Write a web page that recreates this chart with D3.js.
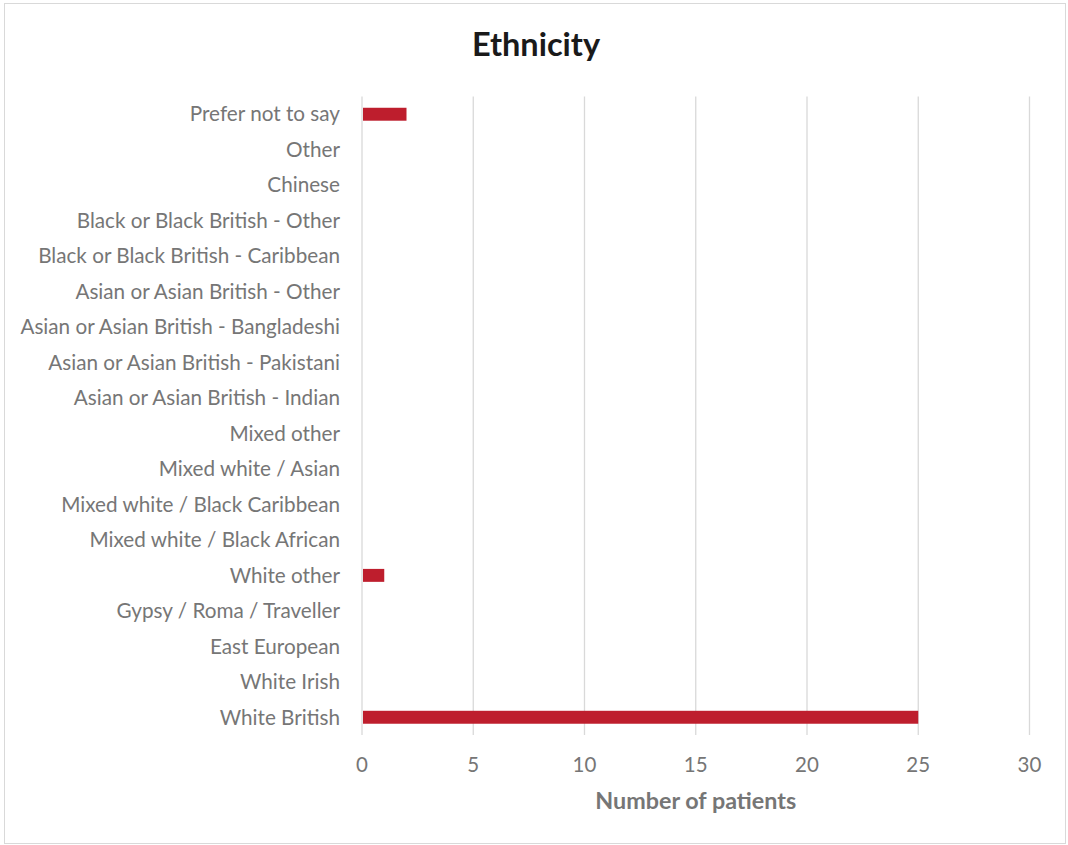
<!DOCTYPE html>
<head>
<meta charset="utf-8">
<title>Ethnicity</title>
<style>
    body { margin:0; background:#fff; }
    svg { display:block; }
    text { font-family: Lato, "Open Sans", sans-serif; }
</style>
</head>
<body>
<svg width="1068" height="845"></svg>

<script src="https://cdnjs.cloudflare.com/ajax/libs/d3/7.8.5/d3.min.js"></script>
<script>
var categories = ["Prefer not to say", "Other", "Chinese", "Black or Black British - Other",
  "Black or Black British - Caribbean", "Asian or Asian British - Other",
  "Asian or Asian British - Bangladeshi", "Asian or Asian British - Pakistani",
  "Asian or Asian British - Indian", "Mixed other", "Mixed white / Asian",
  "Mixed white / Black Caribbean", "Mixed white / Black African", "White other",
  "Gypsy / Roma / Traveller", "East European", "White Irish", "White British"];
var patients = [2, 0, 0, 0, 0, 0, 0, 0, 0, 0, 0, 0, 0, 1, 0, 0, 0, 25];
var xTicks = [0, 5, 10, 15, 20, 25, 30];

var svg = d3.select("svg");

// chart frame
svg.append("rect")
    .attr("x", 4.5).attr("y", 3.5)
    .attr("width", 1061).attr("height", 840)
    .attr("fill", "#fff")
    .attr("stroke", "#d9d9d9");

var plotLeft = 362, plotRight = 1029.5, plotTop = 96.5, plotBottom = 735;

var x = d3.scaleLinear().domain([0, 30]).range([plotLeft, plotRight]);
var y = d3.scaleBand().domain(categories).range([plotTop, plotBottom]).paddingInner(0.635).paddingOuter(0.3175);

// gridlines
svg.append("g").selectAll("line")
    .data(xTicks)
    .join("line")
    .attr("x1", d => x(d)).attr("x2", d => x(d))
    .attr("y1", plotTop).attr("y2", plotBottom)
    .attr("stroke", "#d9d9d9")
    .attr("stroke-width", 1.3);

// bars
svg.append("g").selectAll("rect")
    .data(categories)
    .join("rect")
    .attr("x", x(0) + 1)
    .attr("y", d => y(d))
    .attr("width", (d, i) => Math.max(0, x(patients[i]) - x(0) - 1))
    .attr("height", y.bandwidth())
    .attr("fill", "#be1e2d");

// category labels
svg.append("g").selectAll("text")
    .data(categories)
    .join("text")
    .attr("x", 340)
    .attr("y", d => y(d) + y.bandwidth() / 2)
    .attr("dy", "0.35em")
    .attr("text-anchor", "end")
    .attr("font-size", 20.7)
    .attr("fill", "#767676")
    .text(d => d);

// x tick labels
svg.append("g").selectAll("text")
    .data(xTicks)
    .join("text")
    .attr("x", d => x(d))
    .attr("y", 765)
    .attr("dy", "0.35em")
    .attr("text-anchor", "middle")
    .attr("font-size", 20.5)
    .attr("fill", "#767676")
    .text(d => d);

// axis title
svg.append("text")
    .attr("x", (plotLeft + plotRight) / 2)
    .attr("y", 801)
    .attr("dy", "0.35em")
    .attr("text-anchor", "middle")
    .attr("font-size", 23.3)
    .attr("font-weight", "bold")
    .attr("fill", "#767676")
    .text("Number of patients");

// title
svg.append("text")
    .attr("x", 536)
    .attr("y", 45)
    .attr("dy", "0.35em")
    .attr("text-anchor", "middle")
    .attr("font-size", 32.5)
    .attr("font-weight", "bold")
    .attr("fill", "#1a1a1a")
    .text("Ethnicity");
</script>
</body>
